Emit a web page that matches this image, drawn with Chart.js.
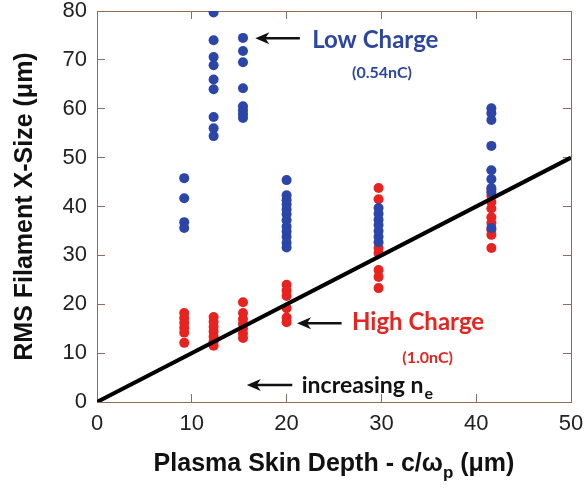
<!DOCTYPE html>
<html>
<head>
<meta charset="utf-8">
<title>RMS Filament X-Size</title>
<script src="https://cdn.jsdelivr.net/npm/chart.js@4.4.1/dist/chart.umd.min.js"></script>
<style>
  html, body { margin: 0; padding: 0; background: #fff; }
  #chart { display: block; }
</style>
</head>
<body>
<canvas id="chart" width="586" height="488"></canvas>
<script>
// skin depth of each set of runs (um)
var depths = [9.2, 12.3, 15.4, 20.0, 29.7, 41.6];

// low charge (0.54nC) filament sizes, one list per depth
var lowCharge = [
  [45.8, 41.7, 36.8, 35.6],
  [79.7, 74.0, 70.6, 68.9, 66.0, 64.0, 58.3, 56.0, 54.4],
  [74.5, 71.8, 69.5, 64.2, 60.5, 59.7, 58.9, 58.1],
  [45.4, 42.3, 41.3, 40.4, 39.4, 38.4, 37.2, 35.9, 34.9, 33.8, 32.6, 31.6],
  [39.7, 38.5, 37.3, 36.2, 35.0, 33.8, 32.7],
  [60.1, 59.1, 57.7, 52.4, 47.4, 45.6, 43.8, 42.9, 35.6]
];

// high charge (1.0nC)
var highCharge = [
  [18.2, 17.2, 16.2, 15.2, 14.2, 12.1],
  [17.4, 16.4, 15.4, 14.4, 13.4, 12.4, 11.5],
  [20.4, 18.2, 17.0, 16.0, 15.0, 14.0, 13.1],
  [24.0, 22.8, 21.7, 19.2, 17.3, 16.3],
  [43.8, 41.5, 31.5, 30.5, 27.0, 25.6, 23.3],
  [43.5, 42.2, 40.9, 39.6, 37.8, 36.6, 35.2, 34.2, 31.5]
];

// size = c/wp
var lineX = [0, 50];
var lineY = [0, 50];

var xTicks = [0, 10, 20, 30, 40, 50];
var yTicks = [0, 10, 20, 30, 40, 50, 60, 70, 80];

var frame = '#8f6d5a';
var blue = '#2b46a8';
var red = '#e8231f';

function toPoints(cols) {
  var pts = [];
  cols.forEach(function (ys, i) {
    ys.forEach(function (y) { pts.push({ x: depths[i], y: y }); });
  });
  return pts;
}

function setTicks(list) {
  return function (s) { s.ticks = list.map(function (v) { return { value: v }; }); };
}

function grid() {
  return { drawOnChartArea: false, tickLength: -8, color: frame, lineWidth: 1 };
}

// fixed box size, and no extra room for the end labels
function fixSize(w, h) {
  return function (s) {
    if (w !== null) s.width = w;
    if (h !== null) s.height = h;
    s.paddingTop = s.paddingBottom = s.paddingLeft = s.paddingRight = 0;
  };
}

var tickFont = { family: "'Liberation Sans', Arial, sans-serif", size: 22, lineHeight: 1 };

function arrow(ctx, tip, tail, y) {
  ctx.beginPath();
  ctx.moveTo(tail, y);
  ctx.lineTo(tip + 6, y);
  ctx.lineWidth = 2.5;
  ctx.strokeStyle = '#111';
  ctx.stroke();
  ctx.beginPath();
  ctx.moveTo(tip, y);
  ctx.lineTo(tip + 14, y - 6);
  ctx.lineTo(tip + 10, y);
  ctx.lineTo(tip + 14, y + 6);
  ctx.closePath();
  ctx.fillStyle = '#111';
  ctx.fill();
}

var annotate = {
  id: 'annotate',
  afterDraw: function (chart) {
    var ctx = chart.ctx, xs = chart.scales.x, ys = chart.scales.y;
    var area = chart.chartArea;
    function px(v) { return xs.getPixelForValue(v); }
    function py(v) { return ys.getPixelForValue(v); }
    ctx.save();

    arrow(ctx, px(16.7), px(21.4), py(74.4));
    arrow(ctx, px(21.1), px(25.8), py(16.1));
    arrow(ctx, px(15.8), px(20.6), py(3.5));

    ctx.textAlign = 'left';
    ctx.textBaseline = 'alphabetic';
    ctx.fillStyle = '#2d47a0';
    ctx.font = "bold 24px Lato, sans-serif";
    ctx.fillText('Low Charge', px(22.7), py(72.4));
    ctx.font = "bold 16px Lato, sans-serif";
    ctx.fillText('(0.54nC)', px(26.9), py(66.2));

    ctx.fillStyle = '#e52521';
    ctx.font = "bold 24px Lato, sans-serif";
    ctx.fillText('High Charge', px(26.9), py(14.7));
    ctx.font = "bold 16px Lato, sans-serif";
    ctx.fillText('(1.0nC)', px(32.2), py(7.9));

    ctx.fillStyle = '#111';
    ctx.font = "bold 23px Lato, sans-serif";
    var t = 'increasing n';
    ctx.fillText(t, px(21.6), py(1.8));
    var w = ctx.measureText(t).width;
    ctx.font = "bold 16px Lato, sans-serif";
    ctx.fillText('e', px(21.6) + w + 1, py(1.8) + 6);

    // axis titles
    ctx.fillStyle = '#111';
    var f = "bold 25px 'Liberation Sans', Arial, sans-serif";
    var fs = "bold 17px 'Liberation Sans', Arial, sans-serif";
    var a = 'Plasma Skin Depth - c/\u03c9', b = 'p', c = ' (\u03bcm)';
    ctx.font = f;
    var wa = ctx.measureText(a).width, wc = ctx.measureText(c).width;
    ctx.font = fs;
    var wb = ctx.measureText(b).width;
    var x0 = (area.left + area.right) / 2 - (wa + wb + wc) / 2;
    var base = chart.height - 17;
    ctx.font = f;
    ctx.fillText(a, x0, base);
    ctx.font = fs;
    ctx.fillText(b, x0 + wa, base + 7);
    ctx.font = f;
    ctx.fillText(c, x0 + wa + wb, base);

    ctx.translate(32, (area.top + area.bottom) / 2);
    ctx.rotate(-Math.PI / 2);
    ctx.textAlign = 'center';
    ctx.fillText('RMS Filament X-Size (\u03bcm)', 0, 0);
    ctx.restore();
  }
};

var chart = new Chart(document.getElementById('chart'), {
  type: 'scatter',
  data: {
    datasets: [{
      label: 'c/wp',
      data: lineX.map(function (x, i) { return { x: x, y: lineY[i] }; }),
      showLine: true,
      borderColor: '#000',
      borderWidth: 4,
      pointRadius: 0
    }, {
      label: 'Low Charge',
      data: toPoints(lowCharge),
      backgroundColor: blue,
      borderWidth: 0,
      pointRadius: 5
    }, {
      label: 'High Charge',
      data: toPoints(highCharge),
      backgroundColor: red,
      borderWidth: 0,
      pointRadius: 5
    }]
  },
  options: {
    responsive: false,
    animation: false,
    events: [],
    layout: { padding: { top: 11, right: 15, left: 0, bottom: 0 } },
    plugins: { legend: { display: false }, tooltip: { enabled: false } },
    scales: {
      x: {
        type: 'linear', position: 'bottom', min: 0, max: 50,
        afterBuildTicks: setTicks(xTicks),
        ticks: { font: tickFont, color: '#222', padding: 19, maxRotation: 0, autoSkip: false },
        grid: grid(),
        border: { color: frame, width: 1 },
        afterFit: fixSize(null, 86)
      },
      x2: {
        type: 'linear', position: 'top', min: 0, max: 50,
        afterBuildTicks: setTicks(xTicks),
        ticks: { display: false },
        grid: grid(),
        border: { color: frame, width: 1 },
        afterFit: fixSize(null, 0)
      },
      y: {
        type: 'linear', position: 'left', min: 0, max: 80,
        afterBuildTicks: setTicks(yTicks),
        ticks: { font: tickFont, color: '#222', padding: 18, autoSkip: false },
        grid: grid(),
        border: { color: frame, width: 1 },
        afterFit: fixSize(97, null)
      },
      y2: {
        type: 'linear', position: 'right', min: 0, max: 80,
        afterBuildTicks: setTicks(yTicks),
        ticks: { display: false },
        grid: grid(),
        border: { color: frame, width: 1 },
        afterFit: fixSize(0, null)
      }
    }
  },
  plugins: [annotate]
});
</script>
</body>
</html>
